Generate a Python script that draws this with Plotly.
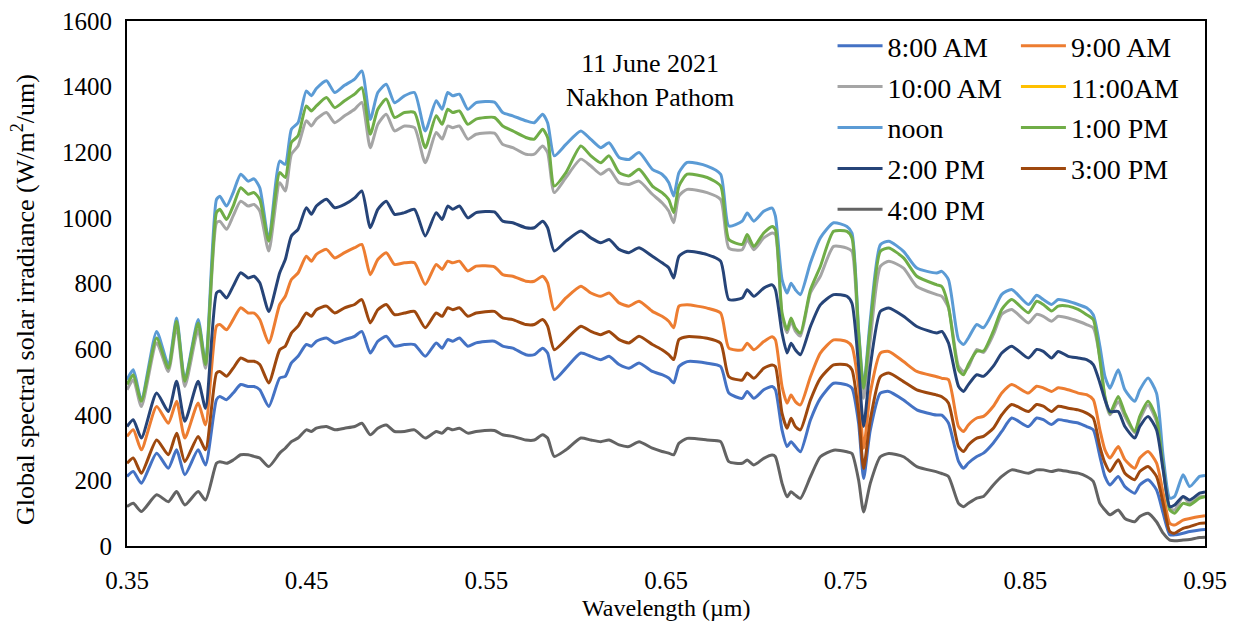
import plotly.graph_objects as go

wavelength = [0.350, 0.3535, 0.358, 0.3665, 0.373, 0.3776, 0.3822, 0.3896, 0.3937, 0.3998,
              0.4017, 0.4054, 0.4091, 0.4133, 0.4174, 0.4207, 0.4239, 0.4289, 0.435, 0.4381,
              0.4415, 0.4452, 0.4498, 0.4526, 0.4554, 0.461, 0.4656, 0.4711, 0.4767, 0.4807,
              0.4854, 0.4896, 0.4943, 0.4989, 0.5044, 0.51, 0.516, 0.5221, 0.5254, 0.5285,
              0.5313, 0.535, 0.5397, 0.5443, 0.5545, 0.5591, 0.5647, 0.572, 0.5767, 0.5813,
              0.5841, 0.5878, 0.5943, 0.6026, 0.6082, 0.6137, 0.6183, 0.6239, 0.6294, 0.635,
              0.6424, 0.6478, 0.6515, 0.6543, 0.6572, 0.6618, 0.6729, 0.6804, 0.685, 0.6924,
              0.6952, 0.6989, 0.7044, 0.7091, 0.7109, 0.7146, 0.7174, 0.7196, 0.722, 0.7248,
              0.7304, 0.7359, 0.7433, 0.7507, 0.7535, 0.7572, 0.76, 0.7637, 0.7693, 0.774,
              0.7822, 0.7896, 0.8007, 0.8035, 0.8072, 0.8128, 0.8156, 0.8183, 0.823, 0.8267,
              0.8322, 0.8369, 0.8424, 0.8517, 0.8563, 0.86, 0.8646, 0.8683, 0.8739, 0.8794,
              0.8841, 0.8878, 0.8915, 0.8943, 0.8971, 0.9017, 0.9054, 0.9109, 0.9137, 0.9183,
              0.923, 0.9267, 0.9304, 0.9331, 0.9378, 0.9415, 0.947, 0.95]

noon = [507, 537, 446, 654, 553, 695, 507, 690, 558, 1056,
        1066, 1036, 1077, 1133, 1112, 1119, 1092, 934, 1173, 1163,
        1270, 1290, 1387, 1372, 1394, 1418, 1382, 1404, 1423, 1448,
        1300, 1382, 1407, 1351, 1372, 1382, 1265, 1357, 1331, 1382,
        1372, 1377, 1331, 1351, 1353, 1321, 1311, 1296, 1290, 1316,
        1290, 1189, 1224, 1265, 1239, 1214, 1229, 1184, 1178, 1199,
        1148, 1133, 1108, 1067, 1138, 1169, 1158, 1133, 975, 990,
        1015, 990, 1020, 1030, 1005, 812, 771, 801, 781, 766,
        863, 939, 985, 974, 954, 659, 486, 689, 918, 929,
        898, 847, 832, 837, 812, 629, 614, 634, 675, 665,
        716, 767, 782, 736, 764, 751, 736, 751, 746, 736,
        726, 705, 609, 517, 481, 537, 476, 441, 476, 512,
        466, 273, 146, 151, 217, 181, 212, 215]

pm1 = [492, 522, 441, 634, 542, 685, 502, 680, 553, 1016,
       1026, 995, 1036, 1092, 1072, 1077, 1056, 929, 1138, 1123,
       1230, 1250, 1341, 1326, 1341, 1367, 1336, 1357, 1377, 1397,
       1255, 1331, 1362, 1306, 1321, 1321, 1214, 1311, 1285, 1331,
       1321, 1326, 1285, 1301, 1306, 1280, 1265, 1245, 1240, 1270,
       1245, 1097, 1138, 1219, 1189, 1168, 1189, 1138, 1128, 1148,
       1097, 1077, 1056, 1016, 1097, 1133, 1123, 1097, 934, 919,
       949, 913, 954, 974, 964, 710, 659, 695, 664, 649,
       781, 852, 959, 959, 939, 650, 481, 669, 898, 908,
       878, 822, 796, 791, 731, 537, 522, 553, 594, 594,
       655, 721, 751, 711, 746, 736, 716, 731, 731, 721,
       705, 690, 568, 456, 405, 456, 405, 349, 395, 441,
       390, 242, 110, 100, 130, 125, 146, 150]

am10 = [476, 507, 425, 619, 532, 670, 486, 659, 542, 985,
        990, 965, 1006, 1051, 1036, 1041, 1021, 899, 1107, 1082,
        1194, 1219, 1296, 1280, 1301, 1321, 1290, 1311, 1331, 1352,
        1214, 1285, 1316, 1265, 1280, 1275, 1168, 1260, 1240, 1280,
        1275, 1280, 1240, 1255, 1258, 1224, 1214, 1194, 1194, 1219,
        1199, 1077, 1123, 1179, 1158, 1133, 1148, 1107, 1102, 1112,
        1072, 1046, 1021, 985, 1067, 1087, 1077, 1056, 908, 903,
        934, 903, 939, 954, 949, 700, 650, 685, 655, 640,
        771, 822, 913, 908, 898, 620, 450, 628, 852, 868,
        847, 791, 766, 761, 726, 548, 532, 545, 599, 590,
        644, 706, 721, 680, 706, 700, 685, 700, 695, 685,
        675, 665, 575, 450, 400, 440, 395, 345, 385, 430,
        380, 240, 115, 110, 150, 130, 150, 152]

pm2 = [364, 385, 329, 466, 410, 502, 380, 502, 420, 771,
       777, 756, 792, 833, 817, 822, 802, 715, 833, 873,
       945, 965, 1031, 1011, 1036, 1057, 1031, 1041, 1061, 1082,
       970, 1026, 1051, 1011, 1016, 1026, 945, 1016, 995, 1036,
       1026, 1036, 1000, 1016, 1018, 990, 985, 970, 970, 990,
       970, 899, 929, 960, 939, 924, 934, 904, 894, 909,
       883, 863, 848, 817, 883, 898, 888, 868, 751, 756,
       781, 761, 786, 796, 781, 649, 588, 618, 598, 583,
       669, 735, 766, 761, 740, 547, 364, 547, 715, 725,
       700, 669, 649, 654, 619, 487, 471, 492, 522, 517,
       548, 588, 609, 573, 599, 593, 573, 593, 578, 573,
       568, 553, 497, 446, 410, 410, 364, 329, 364, 395,
       354, 232, 120, 125, 151, 140, 161, 165]

am9 = [334, 354, 293, 425, 374, 441, 329, 436, 369, 670,
       675, 659, 690, 726, 710, 710, 690, 619, 736, 761,
       812, 832, 883, 868, 889, 904, 878, 894, 909, 919,
       827, 873, 894, 858, 863, 863, 797, 858, 843, 868,
       863, 868, 838, 853, 851, 827, 822, 807, 807, 822,
       802, 720, 756, 792, 771, 761, 771, 741, 731, 746,
       715, 700, 685, 665, 731, 735, 725, 710, 603, 598,
       618, 598, 623, 638, 628, 486, 435, 460, 440, 430,
       516, 588, 628, 623, 608, 486, 298, 466, 588, 593,
       562, 532, 516, 511, 507, 364, 349, 369, 390, 395,
       426, 466, 492, 466, 487, 482, 471, 482, 476, 466,
       461, 446, 354, 293, 268, 303, 263, 237, 268, 288,
       253, 161, 69, 64, 79, 84, 90, 92]

pm3 = [252, 268, 222, 323, 278, 344, 257, 334, 293, 527,
       532, 517, 542, 573, 563, 563, 553, 497, 598, 609,
       649, 670, 710, 700, 720, 731, 710, 726, 736, 751,
       680, 720, 736, 705, 710, 715, 665, 710, 700, 726,
       720, 726, 700, 710, 715, 695, 690, 675, 675, 690,
       670, 598, 629, 670, 654, 644, 654, 629, 619, 639,
       614, 598, 583, 568, 629, 638, 633, 618, 516, 506,
       527, 511, 542, 552, 547, 404, 359, 389, 364, 354,
       445, 511, 552, 552, 537, 404, 236, 384, 516, 527,
       501, 476, 460, 455, 436, 303, 288, 308, 329, 334,
       359, 400, 431, 410, 431, 426, 410, 426, 420, 415,
       405, 390, 303, 253, 227, 263, 222, 202, 227, 242,
       212, 130, 44, 39, 54, 59, 69, 70]

am8 = [212, 227, 191, 283, 237, 293, 217, 293, 247, 446,
       456, 446, 466, 492, 486, 486, 476, 425, 512, 517,
       558, 578, 614, 609, 624, 634, 619, 629, 639, 654,
       588, 624, 639, 609, 614, 614, 578, 619, 603, 629,
       624, 634, 609, 619, 624, 609, 603, 583, 583, 603,
       588, 507, 542, 588, 578, 568, 578, 553, 542, 558,
       532, 522, 512, 497, 547, 562, 557, 547, 466, 450,
       471, 450, 476, 486, 476, 353, 303, 318, 303, 287,
       384, 450, 496, 491, 481, 374, 206, 353, 466, 471,
       445, 415, 399, 399, 375, 258, 237, 253, 273, 283,
       314, 349, 390, 364, 390, 385, 370, 385, 380, 375,
       364, 354, 273, 212, 186, 212, 181, 161, 186, 202,
       171, 100, 34, 34, 39, 44, 49, 50]

pm4 = [120, 130, 105, 156, 135, 166, 125, 166, 140, 252,
       257, 252, 262, 278, 278, 273, 268, 242, 283, 298,
       318, 329, 354, 349, 359, 364, 354, 359, 364, 374,
       339, 359, 369, 349, 349, 354, 329, 349, 344, 359,
       354, 359, 344, 349, 352, 339, 334, 323, 323, 339,
       329, 273, 293, 329, 323, 318, 323, 308, 303, 318,
       298, 288, 283, 278, 313, 328, 323, 318, 257, 252,
       262, 247, 267, 277, 272, 191, 150, 165, 155, 145,
       211, 272, 292, 287, 282, 201, 104, 191, 272, 282,
       272, 242, 226, 221, 212, 130, 120, 130, 146, 151,
       186, 212, 232, 222, 232, 232, 227, 232, 227, 222,
       212, 197, 130, 110, 95, 110, 84, 74, 90, 100,
       74, 39, 18, 16, 18, 20, 26, 27]

series_names = ["8:00 AM", "9:00 AM", "10:00 AM", "11:00AM", "noon",
                "1:00 PM", "2:00 PM", "3:00 PM", "4:00 PM"]
series_values = [am8, am9, am10, None, noon, pm1, pm2, pm3, pm4]
series_colors = ["#4472C4", "#ED7D31", "#A5A5A5", "#FFC000", "#5B9BD5",
                 "#70AD47", "#264478", "#9E480E", "#636363"]
legend_of = ["legend", "legend2", "legend", "legend2", "legend",
             "legend2", "legend", "legend2", "legend"]

x_ticks = [0.35, 0.45, 0.55, 0.65, 0.75, 0.85, 0.95]
y_ticks = [0, 200, 400, 600, 800, 1000, 1200, 1400, 1600]

FONT = "Liberation Serif"

fig = go.Figure()
for name, vals, col, lg in zip(series_names, series_values, series_colors, legend_of):
    if vals is None:
        xs, ys = [None], [None]
    else:
        xs, ys = wavelength, vals
    fig.add_trace(go.Scatter(
        x=xs, y=ys, mode="lines", name=name, legend=lg, legendgroup=name,
        line=dict(color=col, width=3, shape="spline", smoothing=0.6),
    ))

legend_common = dict(
    font=dict(family=FONT, size=28, color="#000000"),
    bgcolor="rgba(0,0,0,0)", borderwidth=0, itemwidth=45,
    xanchor="left", yanchor="top", tracegroupgap=1.5,
)

fig.update_layout(
    width=1243, height=633,
    margin=dict(l=127, r=38, t=21, b=87),
    paper_bgcolor="#FFFFFF", plot_bgcolor="#FFFFFF",
    font=dict(family=FONT, size=24, color="#000000"),
    legend=dict(x=0.6545, y=1.0, **legend_common),
    legend2=dict(x=0.8246, y=1.0, **legend_common),
    xaxis=dict(
        range=[0.35, 0.95], tickvals=x_ticks, ticktext=[f"{v:.2f}" for v in x_ticks],
        showgrid=False, zeroline=False, showline=True, linecolor="#000000",
        linewidth=2, mirror=True, ticks="outside", ticklen=11, automargin=False,
        tickcolor="rgba(0,0,0,0)", tickfont=dict(family=FONT, size=25, color="#000000"),
    ),
    yaxis=dict(
        range=[0, 1600], tickvals=y_ticks,
        showgrid=False, zeroline=False, showline=True, linecolor="#000000",
        linewidth=2, mirror=True, ticks="outside", ticklen=8, automargin=False,
        tickcolor="rgba(0,0,0,0)", tickfont=dict(family=FONT, size=25, color="#000000"),
    ),
    annotations=[
        dict(text="11 June 2021<br>Nakhon Pathom", xref="paper", yref="paper",
             x=0.485, y=0.8866, xanchor="center", yanchor="middle", showarrow=False,
             font=dict(family=FONT, size=26, color="#000000")),
        dict(text="Wavelength (µm)", xref="paper", yref="paper",
             x=0.5, y=-0.118, xanchor="center", yanchor="middle", showarrow=False,
             font=dict(family=FONT, size=24, color="#000000")),
        dict(text="Global spectral solar irradiance (W/m<sup>2</sup>/um)", xref="paper",
             yref="paper", x=-0.0955, y=0.4686, xanchor="center", yanchor="middle",
             textangle=-90, showarrow=False, font=dict(family=FONT, size=26, color="#000000")),
    ],
)

fig.write_html("out.html", config={"displayModeBar": False},
               post_script="document.body.style.margin='0';")
